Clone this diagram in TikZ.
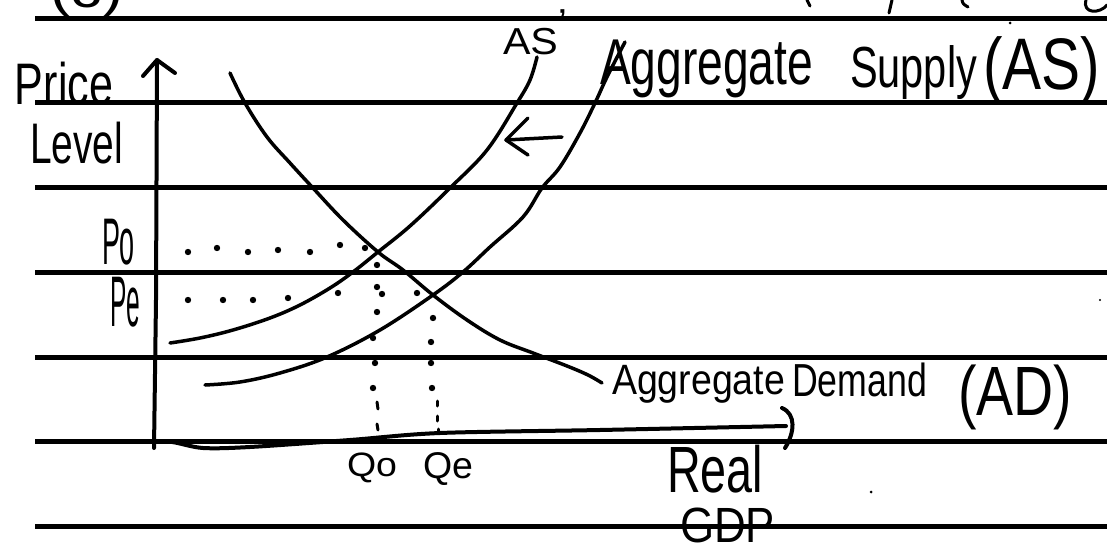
\documentclass[tikz,border=0pt]{standalone}
\usepackage{fontspec}
\setmainfont{Liberation Sans}
\newcommand{\fitbox}[3]{\resizebox*{#1pt}{#2pt}{#3}}
\begin{document}
\begin{tikzpicture}[x=1pt,y=-1pt,
  rule/.style={line width=5pt},
  curve/.style={line width=3.5pt, line cap=round, line join=round},
  axisline/.style={line width=4pt, line cap=round, line join=round},
  lbl/.style={inner sep=0pt, outer sep=0pt, anchor=north west},
  dotmark/.style={fill=black, draw=none}]
\useasboundingbox (0,0) rectangle (1107,553);
\clip (0,0) rectangle (1107,553);
\fill[white] (0,0) rectangle (1107,553);
% ruled paper
\foreach \y in {19,103,188,272,357,441,526} \draw[rule] (35,\y) -- (1107,\y);
% clipped fragments of the line above
\node[lbl] (frag) at (50,-28) {\fitbox{73}{45}{(c)}};
\draw[curve, line width=3pt] (807,0) -- (810,6);
\draw[curve, line width=3pt] (892,0) -- (889,13);
\draw[curve, line width=3pt] (962,0) .. controls (963,4) .. (968,7);
\draw[curve, line width=3pt] (1086,0) .. controls (1082,14) and (1100,14) .. (1107,5);
\fill (1010,23) circle (1.5pt);
% axes
\coordinate (O) at (154,448);
\coordinate (ytop) at (157,60);
\coordinate (xend) at (786,426);
\draw[axisline] (O) -- (156,300) -- (ytop);
\draw[axisline] (143,76) -- (ytop) -- (175,73);
\draw[axisline] plot[smooth, tension=0.5] coordinates {(150,442) (172,442) (203,448) (250,447) (350,440) (440,433) (600,430) (786,426)};
\draw[axisline] (782,408) .. controls (796,414) and (795,432) .. (785,448);
% curves
\draw[curve] plot[smooth, tension=0.6] coordinates {(230,73) (245,103) (267,137) (290,163) (313,188) (343,220) (378,252) (403,270) (433,295) (467,320) (500,340) (533,353) (567,366) (588,375) (602,383)};
\draw[curve] plot[smooth, tension=0.6] coordinates {(170,343) (200,338) (233,330) (270,318) (300,305) (330,288) (353,272) (378,252) (410,226) (450,188) (487,150) (517,103) (530,80) (537,57)};
\draw[curve] plot[smooth, tension=0.6] coordinates {(205,385) (240,382) (280,373) (327,357) (380,330) (433,295) (463,272) (490,247) (523,217) (542,188) (560,167) (580,133) (595,103) (607,77) (625,42)};
% shift arrow
\coordinate (sa) at (562,137);
\coordinate (sb) at (506,140);
\draw[curve] (sa) -- (sb);
\draw[curve] (528,118) -- (sb) -- (528,155);
% dotted guides
\foreach \p in {(188,252),(217,248),(248,252),(278,250),(310,252),(340,245),(365,248),
                (188,300),(223,300),(253,300),(288,298),(338,293),(382,294),(417,293),
                (377,265),(377,287),(377,312),(373,338),(375,363),(373,388),
                (433,318),(431,342),(431,363),(432,388)}
  \fill[dotmark] \p circle (3.2pt);
\draw[curve, line width=3pt] (377,402) -- (378,409);
\draw[curve, line width=3pt] (377,424) -- (378,430);
\draw[curve, line width=3pt] (437,401) -- (437,406);
\draw[curve, line width=3pt] (437,416) -- (437,421);
\draw[curve, line width=3pt] (438,429) -- (438,433);
\fill (871,492) circle (1.5pt);
\fill (1100,300) circle (1.2pt);
% labels
\node[lbl] (price) at (15,62) {\fitbox{98}{43}{Price}};
\node[lbl] (level) at (30,122) {\fitbox{93}{42}{Level}};
\node[lbl] (p0) at (102,219) {\fitbox{33}{46}{Po}};
\node[lbl] (pe) at (110,277) {\fitbox{30}{50}{Pe}};
\node[lbl] (q0) at (347,453) {\fitbox{50}{30}{Qo}};
\node[lbl] (qe) at (423,453) {\fitbox{50}{33}{Qe}};
\node[lbl] (real) at (667,445) {\fitbox{96}{48}{Real}};
\node[lbl] (gdp) at (680,508) {\fitbox{95}{35}{GDP}};
\node[lbl] (asp) at (503,10) {\fitbox{64}{45}{AS\raisebox{5pt}{'}}};
\node[lbl] (as1) at (600,40) {\fitbox{213}{58}{Aggregate}};
\node[lbl] (as2) at (850,46) {\fitbox{127}{54}{Supply}};
\node[lbl] (as3) at (983,37) {\fitbox{117}{68}{(AS)}};
\node[lbl] (ad1) at (612,365) {\fitbox{173}{38}{Aggregate}};
\node[lbl] (ad2) at (792,363) {\fitbox{135}{34}{Demand}};
\node[lbl] (ad3) at (958,365) {\fitbox{114}{65}{(AD)}};
\end{tikzpicture}
\end{document}
